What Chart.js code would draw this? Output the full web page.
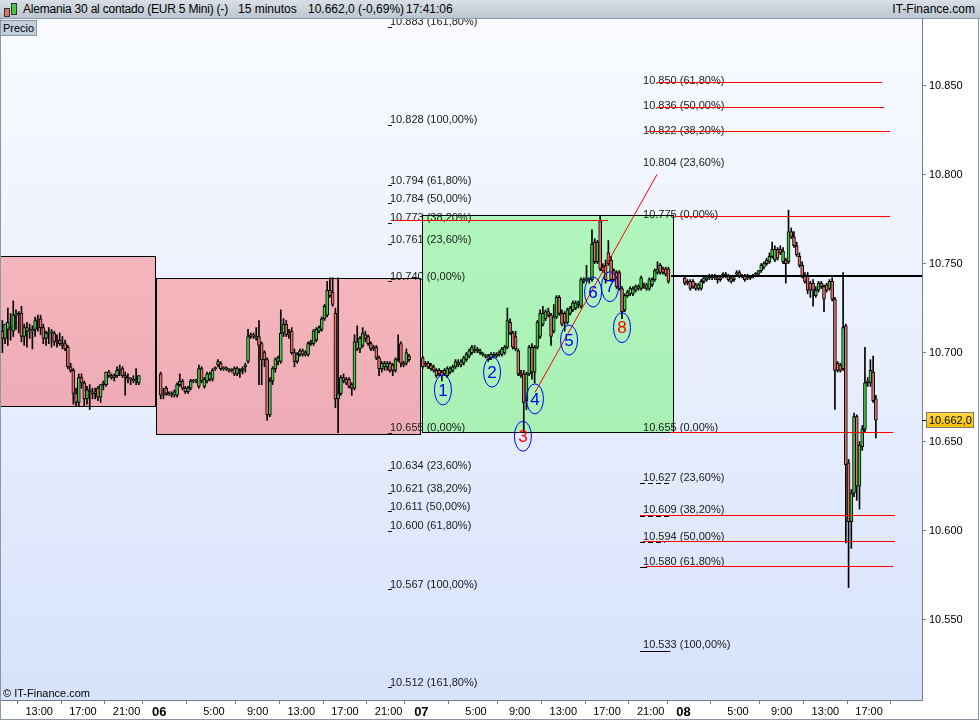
<!DOCTYPE html>
<html>
<head>
<meta charset="utf-8">
<script src="https://cdn.jsdelivr.net/npm/chart.js@4.4.0/dist/chart.umd.min.js"></script>
<style>
  body { margin: 0; background: #fff; font-family: "Liberation Sans", Arial, sans-serif; }
  #wrap { position: relative; width: 980px; height: 720px; overflow: hidden; }
  #c { position: absolute; left: 0; top: 0; }
  #head { position: absolute; left: 0; top: 0; width: 980px; height: 18px; background: linear-gradient(#d9dfe6, #bcc6d0); border-bottom: 1px solid #8c98a5; font-size: 12px; line-height: 18px; color: #000; }
  #head span { position: absolute; top: 0; white-space: nowrap; }
  .ico { position: absolute; width: 4px; border: 1px solid #333; }
  #precio { position: absolute; left: 0; top: 20px; width: 33px; height: 14px; background: #c3cfdc; border: 1px solid #8796a6; font-size: 11px; line-height: 14px; padding-left: 2px; }
  #copy { position: absolute; left: 3px; top: 687px; font-size: 11px; color: #000; }
</style>
</head>
<body>
<div id="wrap">
  <canvas id="c" width="980" height="720"></canvas>
  <div id="head">
    <div class="ico" style="left:4px;top:8px;height:7px;background:#e36f6f"></div>
    <div class="ico" style="left:11px;top:3px;height:10px;background:#44cc44"></div>
    <span style="left:23px;letter-spacing:-0.2px">Alemania 30 al contado (EUR 5 Mini) (-)</span>
    <span style="left:238px">15 minutos</span>
    <span style="left:308px">10.662,0 (-0,69%)</span>
    <span style="left:406px">17:41:06</span>
    <span style="right:5px">IT-Finance.com</span>
  </div>
  <div id="precio">Precio</div>
  <div id="copy">© IT-Finance.com</div>
</div>
<script>
// 15 min bars, index 0 = day 05 09:30
var dayStart = [0, 58, 154, 250];

var open05 = [10712,10708,10713,10714,10712,10721,10721,10722,10709,10714,10712,10712,10713,10718,10719,10714,10708,10711,10711,10711,10706,10707,10705,10705,10703,10692,10690,10677,10672,10686,10683,10674,10679,10678,10677,10680,10675,10682,10682,10689,10687,10686,10687,10690,10691,10687,10686,10685,10685,10684,10683];
var high05 = [10718,10716,10725,10722,10729,10724,10723,10726,10716,10717,10716,10715,10720,10721,10721,10716,10712,10714,10713,10712,10710,10711,10709,10707,10704,10694,10691,10680,10688,10688,10684,10681,10682,10680,10680,10681,10682,10684,10689,10690,10688,10688,10692,10693,10692,10689,10688,10686,10687,10691,10687];
var low05 = [10700,10705,10704,10707,10709,10713,10711,10706,10704,10703,10708,10702,10709,10712,10710,10705,10704,10705,10703,10704,10703,10704,10702,10701,10691,10689,10671,10670,10670,10680,10670,10671,10668,10674,10674,10673,10672,10679,10681,10686,10685,10684,10686,10687,10686,10676,10683,10682,10683,10682,10682];
var close05 = [10708,10716,10717,10713,10721,10721,10722,10709,10714,10712,10712,10713,10718,10718,10714,10708,10711,10711,10711,10706,10707,10705,10704,10702,10692,10690,10677,10672,10686,10683,10674,10679,10678,10677,10678,10675,10682,10683,10689,10687,10686,10687,10690,10690,10687,10686,10685,10685,10684,10685,10687];

var open06 = [10688,10676,10680,10677,10676,10676,10676,10682,10684,10680,10678,10680,10684,10684,10681,10691,10681,10684,10685,10685,10691,10693,10694,10691,10691,10690,10690,10691,10688,10689,10690,10692,10695,10709,10710,10708,10709,10705,10700,10696,10665,10684,10691,10695,10695,10711,10716,10710,10712,10700,10695,10699,10701,10699,10699,10705,10705,10707,10712,10713,10719,10721,10735,10734,10722,10674,10677,10686,10685,10685,10682,10680,10706,10702,10704,10710,10709,10705,10702,10703,10697,10691,10692,10692,10694,10693,10690,10696,10705,10694,10694,10698];
var high06 = [10689,10680,10681,10678,10678,10679,10683,10688,10685,10681,10681,10685,10685,10685,10693,10692,10686,10689,10689,10691,10692,10696,10695,10692,10692,10691,10691,10692,10692,10691,10692,10694,10713,10711,10711,10714,10718,10706,10701,10697,10686,10692,10697,10698,10724,10719,10718,10713,10714,10702,10700,10702,10702,10701,10706,10707,10713,10714,10715,10720,10727,10740,10742,10742,10725,10742,10687,10688,10686,10686,10683,10710,10715,10709,10714,10712,10710,10706,10704,10704,10698,10695,10695,10695,10695,10694,10697,10710,10706,10695,10702,10699];
var low06 = [10674,10674,10676,10676,10675,10675,10675,10681,10679,10677,10677,10679,10683,10683,10680,10683,10680,10683,10684,10684,10690,10692,10690,10690,10690,10689,10689,10687,10687,10686,10688,10689,10694,10708,10708,10707,10682,10682,10692,10662,10664,10682,10689,10693,10694,10709,10709,10708,10699,10692,10694,10698,10698,10698,10698,10704,10704,10706,10711,10712,10718,10720,10731,10726,10669,10655,10676,10683,10682,10680,10676,10679,10701,10700,10703,10706,10704,10701,10701,10696,10687,10689,10690,10690,10689,10687,10689,10695,10692,10692,10693,10695];
var close06 = [10676,10677,10677,10676,10677,10678,10682,10684,10680,10678,10680,10684,10684,10684,10691,10684,10685,10688,10688,10690,10691,10695,10691,10691,10691,10690,10690,10688,10691,10690,10691,10693,10709,10710,10709,10709,10704,10696,10696,10665,10684,10691,10696,10697,10711,10716,10710,10711,10700,10695,10699,10701,10699,10700,10705,10706,10712,10713,10714,10719,10726,10735,10732,10727,10674,10677,10686,10684,10683,10681,10680,10706,10702,10708,10711,10708,10705,10702,10703,10697,10691,10694,10694,10694,10690,10690,10696,10697,10694,10693,10700,10696];

var open07 = [10697,10694,10694,10693,10692,10690,10690,10689,10690,10687,10689,10690,10692,10694,10693,10694,10696,10698,10700,10702,10701,10700,10699,10698,10698,10697,10698,10698,10699,10699,10700,10703,10717,10711,10709,10701,10688,10688,10673,10688,10703,10689,10703,10709,10716,10719,10723,10721,10712,10720,10731,10722,10722,10717,10722,10724,10725,10727,10726,10740,10741,10741,10741,10762,10751,10774,10748,10749,10756,10752,10746,10745,10745,10736,10724,10732,10733,10733,10735,10736,10736,10738,10736,10736,10738,10741,10745,10749,10747,10747,10747];
var high07 = [10698,10695,10695,10694,10693,10691,10691,10690,10691,10692,10692,10693,10696,10696,10696,10698,10700,10702,10704,10704,10703,10702,10700,10699,10699,10700,10700,10700,10701,10703,10704,10725,10719,10712,10712,10702,10690,10690,10689,10704,10705,10704,10718,10724,10726,10724,10725,10722,10727,10732,10732,10724,10723,10725,10726,10729,10729,10729,10742,10742,10749,10742,10769,10764,10763,10777,10750,10752,10763,10754,10747,10746,10746,10737,10733,10735,10737,10737,10738,10738,10743,10739,10739,10742,10742,10747,10751,10750,10748,10748,10748];
var low07 = [10691,10692,10691,10690,10689,10686,10687,10684,10687,10686,10688,10689,10691,10692,10692,10693,10695,10697,10699,10700,10700,10699,10698,10697,10695,10696,10697,10697,10698,10698,10699,10702,10710,10702,10701,10687,10686,10655,10668,10687,10685,10683,10702,10708,10715,10718,10720,10704,10711,10719,10721,10715,10712,10716,10721,10723,10724,10725,10725,10739,10740,10739,10740,10750,10750,10746,10745,10739,10749,10740,10740,10736,10735,10719,10723,10731,10732,10732,10734,10735,10735,10736,10735,10735,10737,10740,10744,10744,10744,10743,10739];
var close07 = [10692,10693,10692,10691,10690,10687,10688,10687,10688,10691,10691,10692,10695,10693,10695,10697,10699,10701,10703,10701,10702,10701,10699,10698,10696,10699,10699,10699,10700,10702,10703,10718,10711,10703,10702,10688,10687,10672,10688,10703,10689,10703,10717,10722,10722,10723,10721,10709,10720,10731,10722,10716,10717,10724,10725,10728,10728,10728,10741,10741,10741,10741,10761,10751,10762,10747,10746,10741,10750,10741,10741,10737,10736,10723,10732,10734,10736,10736,10737,10737,10742,10737,10738,10741,10741,10746,10747,10745,10745,10744,10740];

var open08 = [10742,10740,10740,10740,10738,10736,10736,10740,10741,10742,10742,10743,10742,10742,10743,10744,10743,10740,10742,10744,10745,10743,10743,10743,10742,10743,10744,10744,10746,10748,10750,10751,10754,10752,10758,10758,10751,10752,10751,10768,10765,10760,10754,10749,10743,10743,10739,10739,10732,10735,10739,10737,10738,10736,10740,10730,10694,10693,10691,10715,10638,10605,10621,10664,10625,10647,10657,10683,10683,10689,10674];
var high08 = [10743,10741,10741,10741,10739,10739,10741,10743,10743,10744,10744,10744,10743,10743,10745,10745,10744,10743,10743,10746,10746,10744,10744,10744,10743,10744,10745,10746,10750,10751,10753,10756,10762,10760,10759,10760,10759,10753,10780,10770,10768,10762,10756,10751,10745,10745,10740,10741,10737,10740,10740,10738,10739,10741,10742,10731,10695,10694,10745,10716,10640,10623,10666,10665,10650,10659,10703,10686,10696,10698,10676];
var low08 = [10738,10738,10735,10736,10735,10735,10735,10739,10740,10741,10741,10741,10739,10740,10742,10742,10740,10739,10740,10743,10742,10742,10740,10741,10741,10742,10743,10743,10745,10747,10749,10750,10753,10751,10752,10755,10750,10739,10750,10764,10759,10754,10748,10742,10739,10733,10731,10726,10731,10734,10736,10723,10734,10735,10729,10668,10689,10689,10690,10593,10568,10590,10619,10617,10612,10645,10655,10681,10681,10672,10652];
var close08 = [10739,10739,10736,10737,10736,10738,10740,10742,10742,10743,10743,10742,10741,10741,10744,10743,10741,10742,10741,10745,10743,10743,10741,10742,10743,10743,10744,10746,10749,10750,10752,10754,10758,10758,10753,10756,10757,10750,10768,10765,10760,10755,10749,10743,10740,10735,10735,10735,10735,10739,10737,10730,10735,10740,10730,10690,10690,10690,10714,10637,10605,10621,10664,10625,10648,10657,10683,10684,10690,10673,10662];

// axes
var yTicks = [10550, 10600, 10650, 10700, 10750, 10800, 10850];
var xTickPos = [14, 30, 46, 58, 78, 94, 110, 126, 142, 154, 174, 190, 206, 222, 238, 250, 270, 286, 302, 318];
var xTickText = ['13:00','17:00','21:00','06','5:00','9:00','13:00','17:00','21:00','07','5:00','9:00','13:00','17:00','21:00','08','5:00','9:00','13:00','17:00'];
var lastPrice = 10662;

// drawings on the chart (bar index / price)
var boxX0 = [-1, 56.8, 154.2];
var boxX1 = [56.4, 153.5, 246.2];
var boxTop = [10754.3, 10742, 10777.3];
var boxBottom = [10670.1, 10654.4, 10655.4];

var fibLeftVal = [10883, 10828, 10794, 10784, 10773, 10761, 10740, 10655, 10634, 10621, 10611, 10600, 10567, 10512];
var fibLeftPct = ['161,80%','100,00%','61,80%','50,00%','38,20%','23,60%','0,00%','0,00%','23,60%','38,20%','50,00%','61,80%','100,00%','161,80%'];
var fibRightVal = [10850, 10836, 10822, 10804, 10775, 10655, 10627, 10609, 10594, 10580, 10533];
var fibRightPct = ['61,80%','50,00%','38,20%','23,60%','0,00%','0,00%','23,60%','38,20%','50,00%','61,80%','100,00%'];
// underline under some right-hand labels: length in bars (dashed or solid)
var fibUnderVal = [10627, 10609, 10594, 10580, 10533];
var fibUnderLen = [10, 10, 8, 1.5, 10];
var fibUnderDash = [true, true, true, false, false];

var redLineVal = [10774.5, 10776.7, 10852, 10838, 10824.5, 10655.4, 10609, 10594, 10580];
var redLineFrom = [144.0, 246.9, 240.3, 240.3, 236.7, 245.1, 234.1, 235.2, 236.3];
var redLineTo = [222.4, 325.7, 322.7, 323.5, 325.7, 326.8, 327.5, 327.5, 326.8];
var pivotVal = 10743;
var trendFrom = [195.6, 10677.5];
var trendTo = [240.3, 10800];

var waveNum = ['1','2','3','4','5','6','7','8'];
var waveX = [161.9, 179.9, 191.2, 195.6, 208.1, 216.9, 223.1, 227.5];
var waveY = [10679, 10689, 10653, 10674, 10707, 10734, 10737, 10714];

var fmt = function(v) { return (v / 1000).toFixed(3); };
var FONT = '"Liberation Sans", Arial, sans-serif';

var sessions = [
  {start: dayStart[0], o: open05, h: high05, l: low05, c: close05},
  {start: dayStart[1], o: open06, h: high06, l: low06, c: close06},
  {start: dayStart[2], o: open07, h: high07, l: low07, c: close07},
  {start: dayStart[3], o: open08, h: high08, l: low08, c: close08}
];
var bodies = [], wicks = [], bodyColors = [];
sessions.forEach(function(s) {
  for (var k = 0; k < s.o.length; k++) {
    var x = s.start + k + 0.5;
    bodies.push({x: x, y: [s.o[k], s.c[k]]});
    wicks.push({x: x, y: [s.l[k], s.h[k]]});
    bodyColors.push(s.c[k] >= s.o[k] ? '#44cc44' : '#e36f6f');
  }
});

function hline(ctx, x0, x1, y) {
  y = Math.round(y) + 0.5;
  ctx.beginPath(); ctx.moveTo(x0, y); ctx.lineTo(x1, y); ctx.stroke();
}

var overlay = {
  id: 'overlay',
  beforeDraw: function(chart) {
    var ctx = chart.ctx, a = chart.chartArea;
    ctx.save();
    ctx.fillStyle = '#fff';
    ctx.fillRect(0, 0, chart.width, chart.height);
    var g = ctx.createLinearGradient(0, a.top, 0, a.bottom);
    g.addColorStop(0, '#f9fbff');
    g.addColorStop(1, '#d7e2fb');
    ctx.fillStyle = g;
    ctx.fillRect(a.left, a.top, a.right - a.left, a.bottom - a.top);
    ctx.restore();
  },
  beforeDatasetsDraw: function(chart) {
    var ctx = chart.ctx, a = chart.chartArea, xs = chart.scales.x, ys = chart.scales.y;
    ctx.save();
    ctx.beginPath(); ctx.rect(a.left, a.top, a.right - a.left, a.bottom - a.top); ctx.clip();
    for (var b = 0; b < boxX0.length; b++) {
      var x0 = Math.round(xs.getPixelForValue(boxX0[b])) + 0.5;
      var x1 = Math.round(xs.getPixelForValue(boxX1[b])) + 0.5;
      var y0 = Math.round(ys.getPixelForValue(boxTop[b])) + 0.5;
      var y1 = Math.round(ys.getPixelForValue(boxBottom[b])) + 0.5;
      var g = ctx.createLinearGradient(0, y0, 0, y1);
      if (b < 2) { g.addColorStop(0, '#f4b6bc'); g.addColorStop(1, '#eeacb6'); }
      else { g.addColorStop(0, '#b1f6bc'); g.addColorStop(1, '#a9f0b5'); }
      ctx.fillStyle = g;
      ctx.fillRect(x0, y0, x1 - x0, y1 - y0);
      ctx.strokeStyle = '#000'; ctx.lineWidth = 1;
      ctx.strokeRect(x0, y0, x1 - x0, y1 - y0);
    }
    ctx.restore();
  },
  afterDatasetsDraw: function(chart) {
    var ctx = chart.ctx, a = chart.chartArea, xs = chart.scales.x, ys = chart.scales.y;
    ctx.save();
    ctx.beginPath(); ctx.rect(a.left, a.top, a.right - a.left, a.bottom - a.top); ctx.clip();

    // fibonacci labels
    ctx.font = '11px ' + FONT;
    ctx.fillStyle = '#1a1a1a';
    ctx.textBaseline = 'bottom';
    ctx.textAlign = 'left';
    var lx = xs.getPixelForValue(142.5), rx = xs.getPixelForValue(235.2);
    fibLeftVal.forEach(function(v, k) {
      var y = ys.getPixelForValue(v);
      ctx.fillText(fmt(v) + ' (' + fibLeftPct[k] + ')', lx, y + 1);
      ctx.fillRect(lx - 2, Math.round(y), 4, 1);
    });
    fibRightVal.forEach(function(v, k) {
      ctx.fillText(fmt(v) + ' (' + fibRightPct[k] + ')', rx, ys.getPixelForValue(v) + 1);
    });
    ctx.strokeStyle = '#000'; ctx.lineWidth = 1;
    fibUnderVal.forEach(function(v, k) {
      ctx.setLineDash(fibUnderDash[k] ? [5, 3] : []);
      hline(ctx, rx - 3, xs.getPixelForValue(235.2 + fibUnderLen[k]), ys.getPixelForValue(v) + 1);
    });
    ctx.setLineDash([]);

    // red levels
    ctx.strokeStyle = '#ff0000'; ctx.lineWidth = 1;
    redLineVal.forEach(function(v, k) {
      hline(ctx, xs.getPixelForValue(redLineFrom[k]), xs.getPixelForValue(redLineTo[k]), ys.getPixelForValue(v));
    });
    // trend line
    ctx.beginPath();
    ctx.moveTo(xs.getPixelForValue(trendFrom[0]), ys.getPixelForValue(trendFrom[1]));
    ctx.lineTo(xs.getPixelForValue(trendTo[0]), ys.getPixelForValue(trendTo[1]));
    ctx.stroke();
    // pivot
    ctx.strokeStyle = '#000'; ctx.lineWidth = 2;
    var py = Math.round(ys.getPixelForValue(pivotVal));
    ctx.beginPath(); ctx.moveTo(xs.getPixelForValue(245.5), py); ctx.lineTo(a.right, py); ctx.stroke();

    // wave count
    ctx.lineWidth = 1;
    ctx.font = '17px ' + FONT;
    ctx.textAlign = 'center';
    ctx.textBaseline = 'middle';
    waveNum.forEach(function(n, k) {
      var cx = xs.getPixelForValue(waveX[k]), cy = ys.getPixelForValue(waveY[k]);
      ctx.strokeStyle = '#0000ff';
      ctx.beginPath(); ctx.ellipse(cx, cy, 8.5, 15, 0, 0, Math.PI * 2); ctx.stroke();
      ctx.fillStyle = (n === '3' || n === '8') ? '#ff0000' : '#0000ff';
      ctx.fillText(n, cx, cy + 1);
    });
    ctx.restore();
  },
  afterDraw: function(chart) {
    var ctx = chart.ctx, a = chart.chartArea, ys = chart.scales.y;
    ctx.save();
    var y = Math.round(ys.getPixelForValue(lastPrice));
    ctx.fillStyle = '#000';
    ctx.fillRect(a.right, y, 4, 1);
    var g = ctx.createLinearGradient(0, y - 8, 0, y + 8);
    g.addColorStop(0, '#ffd84a'); g.addColorStop(1, '#f5c000');
    ctx.fillStyle = g;
    ctx.fillRect(a.right + 4.5, y - 7.5, 47, 15);
    ctx.strokeStyle = '#7a7a7a'; ctx.lineWidth = 1;
    ctx.strokeRect(a.right + 4.5, y - 7.5, 47, 15);
    ctx.fillStyle = '#000';
    ctx.font = '11px ' + FONT;
    ctx.textBaseline = 'middle';
    ctx.textAlign = 'left';
    ctx.fillText('10.662,0', a.right + 7, y + 1);
    // frame
    ctx.strokeStyle = '#8a97a5';
    ctx.strokeRect(0.5, 0.5, chart.width - 2, chart.height - 1);
    ctx.restore();
  }
};

new Chart(document.getElementById('c'), {
  type: 'bar',
  data: {
    datasets: [
      { label: 'cuerpo', data: bodies, backgroundColor: bodyColors, borderColor: '#000', borderWidth: 1, borderSkipped: false, barThickness: 3, minBarLength: 1, grouped: false },
      { label: 'mecha', data: wicks, backgroundColor: '#000', borderWidth: 0, barThickness: 1, grouped: false }
    ]
  },
  options: {
    responsive: false,
    animation: false,
    devicePixelRatio: 1,
    layout: { padding: { top: 19, left: 1, right: 0, bottom: 0 } },
    plugins: { legend: { display: false }, tooltip: { enabled: false } },
    scales: {
      x: {
        type: 'linear', min: 0, max: 337.4, offset: false,
        afterBuildTicks: function(s) { s.ticks = xTickPos.map(function(v) { return {value: v}; }); },
        afterFit: function(s) { s.height = 20; },
        grid: { drawOnChartArea: false, drawTicks: true, tickLength: 4, color: '#6f7f8f' },
        border: { display: true, color: '#6f7f8f' },
        ticks: {
          autoSkip: false, maxRotation: 0, minRotation: 0, padding: 1, color: '#000',
          callback: function(v, i) { return xTickText[i]; },
          font: function(c) {
            var t = xTickText[c.index] || '';
            return t.indexOf(':') < 0 ? {family: FONT, size: 13, weight: 'bold'} : {family: FONT, size: 11};
          }
        }
      },
      y: {
        position: 'right', min: 10504.8, max: 10887.4,
        afterBuildTicks: function(s) { s.ticks = yTicks.map(function(v) { return {value: v}; }); },
        afterFit: function(s) { s.width = 58; },
        grid: { drawOnChartArea: false, drawTicks: true, tickLength: 4, color: '#6f7f8f' },
        border: { display: true, color: '#6f7f8f' },
        ticks: { padding: 3, color: '#000', font: {family: FONT, size: 11}, callback: function(v) { return fmt(v); } }
      }
    }
  },
  plugins: [overlay]
});
</script>
</body>
</html>
